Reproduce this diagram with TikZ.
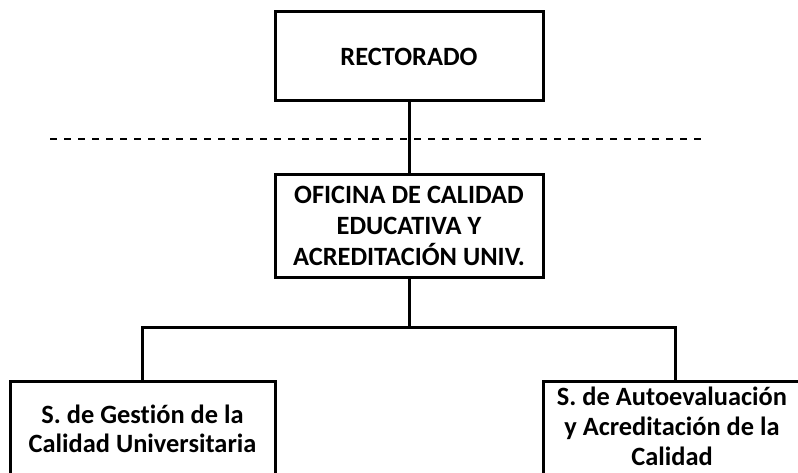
\documentclass[tikz,border=0pt]{standalone}
\usepackage{fontspec}
\setmainfont{Carlito}[Ligatures=NoCommon]
\begin{document}
\begin{tikzpicture}[x=1pt,y=-1pt,
  box/.style={draw=black,line width=3pt,minimum width=268pt,inner sep=0pt,align=center,
    font=\fontsize{26.4}{31}\selectfont\bfseries},
  lbl/.style={inner sep=0pt,align=center,font=\fontsize{26.4}{30}\selectfont\bfseries},
  conn/.style={draw=black,line width=3pt},
  sep/.style={draw=black,line width=2pt,dash pattern=on 7pt off 7pt}]
\clip (0,0) rectangle (798,473);
\useasboundingbox (0,0) rectangle (798,473);
\node[box,minimum height=89pt] (rect) at (409,56.5) {RECTORADO};
\node[box,minimum height=102pt] (ofi) at (409,226) {OFICINA DE CALIDAD\\EDUCATIVA Y\\ACREDITACIÓN UNIV.};
\node[box,minimum width=265pt,minimum height=160pt,anchor=north] (lbox) at (142.5,380) {};
\node[box,minimum width=264pt,minimum height=160pt,anchor=north] (rbox) at (675,380) {};
\node[lbl,font=\fontsize{26.4}{28.5}\selectfont\bfseries] (ltext) at (142.5,429) {S. de Gestión de la\\Calidad Universitaria};
\node[lbl] (rtext) at (672,426) {S. de Autoevaluación\\y Acreditación de la\\Calidad};
\coordinate (sepL) at (50,139);
\coordinate (sepR) at (702,139);
\coordinate (junc) at (409,327);
\draw[sep] (sepL) -- (sepR);
\draw[conn] (rect.south) -- (ofi.north);
\draw[conn] (ofi.south) -- (junc);
\draw[conn,line cap=rect] (lbox.north) |- (junc) -| (rbox.north);
\end{tikzpicture}
\end{document}
